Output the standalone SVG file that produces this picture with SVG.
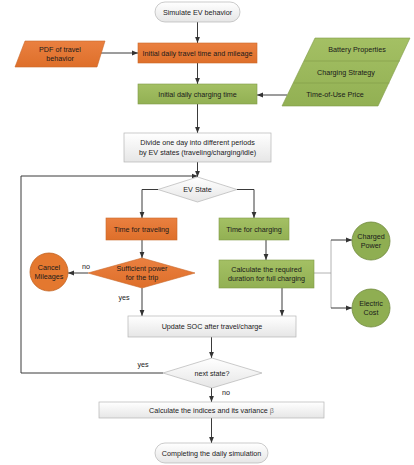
<svg xmlns="http://www.w3.org/2000/svg" width="414" height="465" viewBox="0 0 414 465">
<style>
text{font-family:"Liberation Sans",Arial,sans-serif;font-size:7.2px;fill:#1a1a1a;text-anchor:middle}
.or{fill:url(#gOr);stroke:#c9682a;stroke-width:0.6}
.gr{fill:url(#gGr);stroke:#7f9a48;stroke-width:0.6}
.gy{fill:url(#gGy);stroke:#b5b5b5;stroke-width:0.7}
.ci{fill:#8fae52;stroke:#70893e;stroke-width:0.8}
.co{fill:#e4782f;stroke:#c2621f;stroke-width:0.8}
.ln{fill:none;stroke:#3a3a3a;stroke-width:1}
.lt{fill:none;stroke:#a0a0a0;stroke-width:0.8}
</style>
<defs>
<linearGradient id="gOr" x1="0" y1="0" x2="0" y2="1"><stop offset="0" stop-color="#ea8040"/><stop offset="1" stop-color="#de6f2a"/></linearGradient>
<linearGradient id="gGr" x1="0" y1="0" x2="0" y2="1"><stop offset="0" stop-color="#a4c064"/><stop offset="1" stop-color="#92b053"/></linearGradient>
<linearGradient id="gGy" x1="0" y1="0" x2="0" y2="1"><stop offset="0" stop-color="#ffffff"/><stop offset="1" stop-color="#e6e6e6"/></linearGradient>
<marker id="ar" viewBox="0 0 10 10" refX="10" refY="5" markerWidth="6" markerHeight="6" orient="auto"><path d="M0,1 L10,5 L0,9 z" fill="#333"/></marker>
</defs>
<rect width="414" height="465" fill="#fff"/>

<g id="connectors">
<path class="ln" d="M197.5,22 V43" marker-end="url(#ar)"/>
<path class="ln" d="M99,53 H138" marker-end="url(#ar)"/>
<path class="ln" d="M197.5,63 V84" marker-end="url(#ar)"/>
<path class="ln" d="M287,95 H257" marker-end="url(#ar)"/>
<path class="ln" d="M197.5,104 V133" marker-end="url(#ar)"/>
<path class="ln" d="M197.5,162 V177" marker-end="url(#ar)"/>
<path class="ln" d="M163,373 H21 V176 H197.5" marker-end="url(#ar)"/>
<path class="ln" d="M158,189.5 H142 V218" marker-end="url(#ar)"/>
<path class="ln" d="M237,189.5 H254 V218" marker-end="url(#ar)"/>
<path class="ln" d="M142,240 V258" marker-end="url(#ar)"/>
<path class="ln" d="M88,273 H68" marker-end="url(#ar)"/>
<path class="ln" d="M142,288 V316" marker-end="url(#ar)"/>
<path class="ln" d="M266,240 V260" marker-end="url(#ar)"/>
<path class="ln" d="M282,288 V316" marker-end="url(#ar)"/>
<path class="lt" d="M313,273 H331"/>
<path class="lt" d="M331,240 V308"/>
<path class="ln" d="M331,240 H352" marker-end="url(#ar)"/>
<path class="ln" d="M331,308 H352" marker-end="url(#ar)"/>
<path class="ln" d="M211.5,337 V358" marker-end="url(#ar)"/>
<path class="ln" d="M211.5,388 V402" marker-end="url(#ar)"/>
<path class="ln" d="M211.5,418 V443" marker-end="url(#ar)"/>
<text x="86" y="269">no</text>
<text x="124" y="300">yes</text>
<text x="143" y="367">yes</text>
<text x="226" y="395">no</text>
</g>

<g id="start">
<rect class="gy" x="155" y="2" width="85" height="20" rx="10"/>
<text x="197.5" y="14.5">Simulate EV behavior</text>
</g>

<g id="pdf">
<polygon class="or" points="25,41 105,41 97,67 15,67"/>
<text x="60" y="52">PDF of travel</text>
<text x="60" y="61">behavior</text>
</g>

<g id="travel-init">
<rect class="or" x="138" y="43" width="119" height="20"/>
<text x="197.5" y="55.5">Initial daily travel time and mileage</text>
</g>

<g id="charge-init">
<rect class="gr" x="138" y="84" width="119" height="20"/>
<text x="197.5" y="96.5">Initial daily charging time</text>
</g>

<g id="inputs">
<polygon class="gr" points="315,38 410,38 378,106 282,106"/>
<path d="M304,61 H400 M293.6,83 H389.5" stroke="#7f9a48" stroke-width="0.6" fill="none"/>
<text x="357" y="52">Battery Properties</text>
<text x="346" y="74.5">Charging Strategy</text>
<text x="335" y="97">Time-of-Use Price</text>
</g>

<g id="divide">
<rect class="gy" x="124" y="133" width="147" height="29"/>
<text x="197.5" y="145">Divide one day into different periods</text>
<text x="197.5" y="155">by EV states (traveling/charging/idle)</text>
</g>

<g id="ev-state">
<polygon class="gy" points="197.5,177 237,189.5 197.5,202 158,189.5"/>
<text x="197.5" y="192">EV State</text>
</g>

<g id="time-travel">
<rect class="or" x="106" y="218" width="71" height="22"/>
<text x="141.5" y="231.5">Time for traveling</text>
</g>

<g id="time-charge">
<rect class="gr" x="219" y="218" width="70" height="22"/>
<text x="254" y="231.5">Time for charging</text>
</g>

<g id="sufficient">
<polygon class="or" points="142,258 195,273 142,288 88,273"/>
<text x="142" y="271">Sufficient power</text>
<text x="142" y="280">for the trip</text>
</g>

<g id="cancel">
<circle class="co" cx="49" cy="272" r="19"/>
<text x="49" y="270">Cancel</text>
<text x="49" y="279">Mileages</text>
</g>

<g id="calc-duration">
<rect class="gr" x="219" y="260" width="95" height="28"/>
<text x="266.5" y="271.5">Calculate the required</text>
<text x="266.5" y="281">duration for full charging</text>
</g>

<g id="charged-power">
<circle class="ci" cx="371" cy="241" r="19"/>
<text x="371" y="239">Charged</text>
<text x="371" y="248">Power</text>
</g>

<g id="electric-cost">
<circle class="ci" cx="371" cy="308" r="19"/>
<text x="371" y="305.5">Electric</text>
<text x="371" y="314.5">Cost</text>
</g>

<g id="update-soc">
<rect class="gy" x="128" y="316" width="168" height="21"/>
<text x="212" y="329">Update SOC after travel/charge</text>
</g>

<g id="next-state">
<polygon class="gy" points="212,358 262,373 212,388 163,373"/>
<text x="212" y="375.5">next state?</text>
</g>

<g id="calc-indices">
<rect class="gy" x="99" y="402" width="225" height="16"/>
<text x="211.5" y="412.5">Calculate the indices and its variance  <tspan fill="#777">β</tspan></text>
</g>

<g id="end">
<rect class="gy" x="155" y="443" width="113" height="20" rx="10"/>
<text x="211.5" y="455.5">Completing the daily simulation</text>
</g>
</svg>
